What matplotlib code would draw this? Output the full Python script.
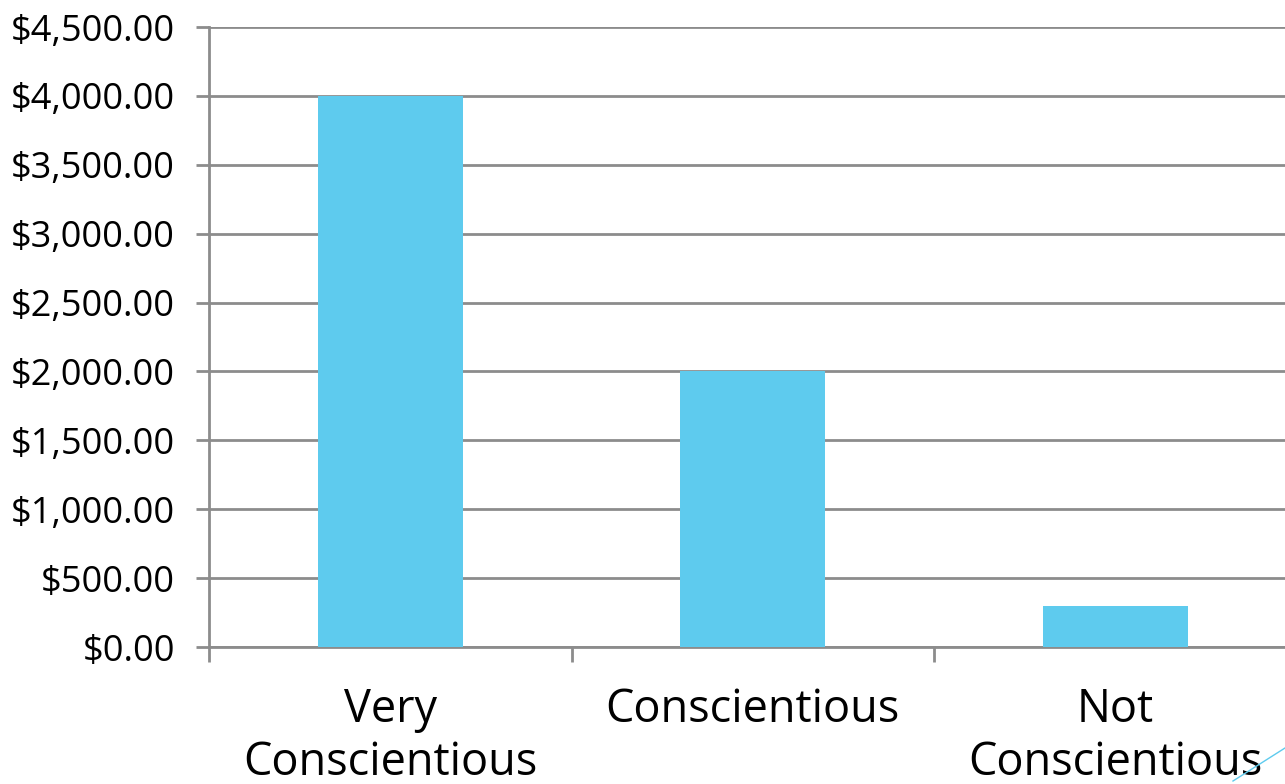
import matplotlib
matplotlib.use("Agg")
import matplotlib.pyplot as plt
from matplotlib.ticker import FuncFormatter, MultipleLocator
from matplotlib.lines import Line2D

categories = ["Very\nConscientious", "Conscientious", "Not\nConscientious"]
values = [4000, 2000, 300]

plt.rcParams['font.family'] = ['Open Sans', 'DejaVu Sans']

fig = plt.figure(figsize=(12.85, 7.84), dpi=100)
ax = fig.add_axes([209 / 1285, 137 / 784, 1087.5 / 1285, 620 / 784])

grid_col = "#8c8c8c"
x = range(len(categories))
ax.bar(x, values, width=0.4, color="#5ecbee", zorder=3)

ax.set_xlim(-0.5, len(categories) - 0.5)
ax.set_ylim(0, 4500)
ax.yaxis.set_major_locator(MultipleLocator(500))
ax.yaxis.set_major_formatter(FuncFormatter(lambda v, p: f"${v:,.2f}"))
ax.grid(axis="y", color=grid_col, linewidth=2, zorder=0)

ax.set_xticks([i - 0.5 for i in x])
ax.set_xticklabels([])
ax.set_xticks(list(x), minor=True)
ax.set_xticklabels(categories, minor=True, fontsize=32.5, linespacing=1.2)
ax.tick_params(axis="x", which="major", length=11, width=2, color=grid_col)
ax.tick_params(axis="x", which="minor", length=0, pad=29)
ax.tick_params(axis="y", length=9.5, width=2, color=grid_col, pad=15, labelsize=26)

for side in ("top", "right"):
    ax.spines[side].set_visible(False)
for side in ("left", "bottom"):
    ax.spines[side].set_color(grid_col)
    ax.spines[side].set_linewidth(2)

fig.add_artist(Line2D([1233 / 1285, 1.0], [3 / 784, 36 / 784],
                      transform=fig.transFigure, color="#5ecbee", linewidth=1))

fig.savefig("out.png", dpi=100)
